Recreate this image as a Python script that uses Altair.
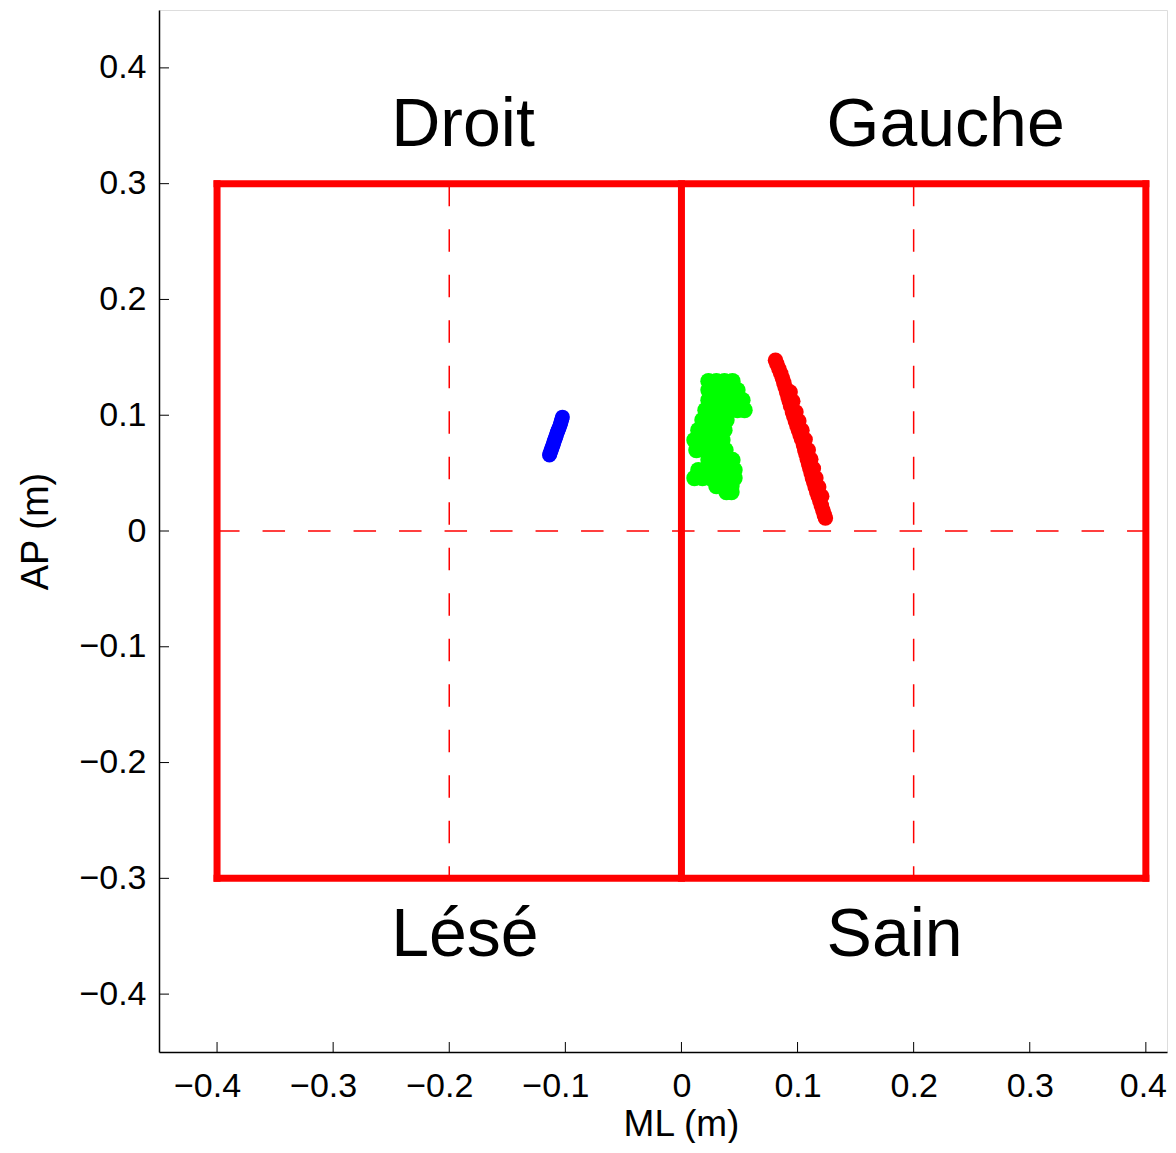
import altair as alt
import pandas as pd

# ---- data ----
tick_values = [-0.4, -0.3, -0.2, -0.1, 0.0, 0.1, 0.2, 0.3, 0.4]

# solid red frame (outer rectangle + middle divider)
solid_x1 = [-0.4, -0.4, 0.4, -0.4, 0.0]
solid_y1 = [-0.3, 0.3, 0.3, -0.3, -0.3]
solid_x2 = [-0.4, 0.4, 0.4, 0.4, 0.0]
solid_y2 = [0.3, 0.3, -0.3, -0.3, 0.3]

# dashed red guides
dash_x1 = [-0.2, 0.2, -0.4]
dash_y1 = [0.3, 0.3, 0.0]
dash_x2 = [-0.2, 0.2, 0.4]
dash_y2 = [-0.3, -0.3, 0.0]

# quadrant labels
label_text = ["Droit", "Gauche", "Lésé", "Sain"]
label_x = [-0.25, 0.125, -0.25, 0.125]
label_y = [0.35, 0.35, -0.35, -0.35]

# centre-of-pressure traces
blue_x = [-0.1025, -0.1030, -0.1035, -0.1040, -0.1045, -0.1052, -0.1058, -0.1064, -0.1070,
          -0.1076, -0.1082, -0.1088, -0.1095, -0.1100, -0.1105, -0.1112, -0.1118, -0.1123,
          -0.1128, -0.1133, -0.1137]
blue_y = [0.0984, 0.0967, 0.0950, 0.0932, 0.0915, 0.0897, 0.0880, 0.0865, 0.0850,
          0.0832, 0.0815, 0.0797, 0.0780, 0.0762, 0.0745, 0.0727, 0.0710, 0.0695,
          0.0680, 0.0668, 0.0656]

green_x = [0.0233, 0.0301, 0.0370, 0.0439,
           0.0233, 0.0301, 0.0370, 0.0439, 0.0482,
           0.0233, 0.0301, 0.0370, 0.0439, 0.0508, 0.0525,
           0.0207, 0.0276, 0.0345, 0.0413, 0.0482, 0.0543,
           0.0181, 0.0250, 0.0319, 0.0388,
           0.0146, 0.0215, 0.0284, 0.0353, 0.0370,
           0.0112, 0.0181, 0.0250, 0.0319, 0.0353,
           0.0129, 0.0198, 0.0267, 0.0336, 0.0379,
           0.0233, 0.0301, 0.0370, 0.0439,
           0.0146, 0.0215, 0.0284, 0.0353, 0.0422, 0.0457,
           0.0112, 0.0181, 0.0250, 0.0319, 0.0388, 0.0457,
           0.0301, 0.0370, 0.0431,
           0.0388, 0.0431]
green_y = [0.1294, 0.1294, 0.1294, 0.1294,
           0.1217, 0.1217, 0.1217, 0.1217, 0.1217,
           0.1130, 0.1130, 0.1130, 0.1130, 0.1130, 0.1130,
           0.1044, 0.1044, 0.1044, 0.1044, 0.1044, 0.1044,
           0.0958, 0.0958, 0.0958, 0.0958,
           0.0871, 0.0871, 0.0871, 0.0871, 0.0871,
           0.0785, 0.0785, 0.0785, 0.0785, 0.0785,
           0.0699, 0.0699, 0.0699, 0.0699, 0.0699,
           0.0613, 0.0613, 0.0613, 0.0613,
           0.0526, 0.0526, 0.0526, 0.0526, 0.0526, 0.0526,
           0.0457, 0.0457, 0.0457, 0.0457, 0.0457, 0.0457,
           0.0388, 0.0388, 0.0388,
           0.0336, 0.0336]

red_x = [0.0810, 0.0823, 0.0840, 0.0855, 0.0870, 0.0882, 0.0894, 0.0906, 0.0918, 0.0929,
         0.0940, 0.0956, 0.0968, 0.0981, 0.0995, 0.1008, 0.1022, 0.1035, 0.1051, 0.1062,
         0.1073, 0.1084, 0.1095, 0.1106, 0.1117, 0.1128, 0.1140, 0.1152, 0.1165, 0.1178,
         0.1192, 0.1205, 0.1218, 0.1230, 0.1240,
         0.0936, 0.0959, 0.0986, 0.1011, 0.1038, 0.1065, 0.1092, 0.1114, 0.1136, 0.1158,
         0.1182, 0.1208]
red_y = [0.1475, 0.1440, 0.1400, 0.1360, 0.1320, 0.1280, 0.1240, 0.1200, 0.1160, 0.1120,
         0.1080, 0.1027, 0.0990, 0.0950, 0.0910, 0.0870, 0.0830, 0.0790, 0.0742, 0.0700,
         0.0660, 0.0620, 0.0580, 0.0540, 0.0500, 0.0457, 0.0420, 0.0380, 0.0340, 0.0300,
         0.0260, 0.0220, 0.0180, 0.0140, 0.0112,
         0.1200, 0.1120, 0.1027, 0.0950, 0.0870, 0.0790, 0.0700, 0.0620, 0.0540, 0.0457,
         0.0380, 0.0300]

blue_color, green_color, red_color = "#0000ff", "#00ff00", "#ff0000"
blue_size, green_size, red_size = 220, 270, 240

# ---- tables ----
solid_df = pd.DataFrame({"x": solid_x1, "y": solid_y1, "x2": solid_x2, "y2": solid_y2})
dash_df = pd.DataFrame({"x": dash_x1, "y": dash_y1, "x2": dash_x2, "y2": dash_y2})
label_df = pd.DataFrame({"x": label_x, "y": label_y, "t": label_text})
blue_df = pd.DataFrame({"x": blue_x, "y": blue_y})
green_df = pd.DataFrame({"x": green_x, "y": green_y})
red_df = pd.DataFrame({"x": red_x, "y": red_y})
tick_df = pd.DataFrame({"v": tick_values})

W, H = 1008, 1042
FONT = "Liberation Sans"

xs = alt.Scale(domain=[-0.45, -0.45 + W / 1161.0], nice=False, zero=False)
ys = alt.Scale(domain=[-0.45, 0.45], nice=False, zero=False)

x_axis = alt.Axis(values=tick_values, format="~g", title="ML (m)", grid=False,
                  tickSize=0, labelFontSize=34, labelFont=FONT, labelColor="black",
                  labelPadding=17, domainColor="black", domainWidth=1.5,
                  labelOffset={"condition": [{"test": "datum.value < 0", "value": -10},
                                             {"test": "datum.value > 0.35", "value": -3}],
                               "value": 0},
                  titleFont=FONT, titleFontSize=37, titleFontWeight="normal",
                  titleColor="black", titleX=522, titleY=83, titleBaseline="alphabetic",
                  titleAlign="center", labelFlush=False, labelOverlap=False)
y_axis = alt.Axis(values=tick_values, format="~g", title="AP (m)", grid=False,
                  tickSize=0, labelFontSize=34, labelFont=FONT, labelColor="black",
                  labelPadding=13, domainColor="black", domainWidth=1.5,
                  titleFont=FONT, titleFontSize=38, titleFontWeight="normal",
                  titleColor="black", titleX=-112, titleY=H / 2, titleBaseline="alphabetic",
                  titleAlign="center", titleAngle=270, labelFlush=False, labelOverlap=False)

X = lambda f="x": alt.X(f + ":Q", scale=xs, axis=x_axis)
Y = lambda f="y": alt.Y(f + ":Q", scale=ys, axis=y_axis)

solid = alt.Chart(solid_df).mark_rule(color=red_color, strokeWidth=7, strokeCap="square").encode(
    x=X(), y=Y(), x2="x2:Q", y2="y2:Q")

dashed = alt.Chart(dash_df).mark_rule(color=red_color, strokeWidth=1.5, strokeDash=[22.5, 23]).encode(
    x=X(), y=Y(), x2="x2:Q", y2="y2:Q")

blue_pts = alt.Chart(blue_df).mark_circle(opacity=1, color=blue_color, size=blue_size).encode(x=X(), y=Y())
green_pts = alt.Chart(green_df).mark_circle(opacity=1, color=green_color, size=green_size).encode(x=X(), y=Y())
red_pts = alt.Chart(red_df).mark_circle(opacity=1, color=red_color, size=red_size).encode(x=X(), y=Y())

labels = alt.Chart(label_df).mark_text(font=FONT, fontSize=68, align="left", baseline="middle",
                                       color="black").encode(x=X(), y=Y(), text="t:N")

xticks = alt.Chart(tick_df).mark_rule(color="black", strokeWidth=1).encode(
    x=alt.X("v:Q", scale=xs, axis=x_axis), y=alt.value(H), y2=alt.value(H - 10))
yticks = alt.Chart(tick_df).mark_rule(color="black", strokeWidth=1).encode(
    y=alt.Y("v:Q", scale=ys, axis=y_axis), x=alt.value(0), x2=alt.value(10))

chart = alt.layer(solid, dashed, labels, blue_pts, green_pts, red_pts, xticks, yticks).properties(
    width=W, height=H,
    autosize=alt.AutoSizeParams(type="none"),
    padding={"left": 151, "top": 2, "right": 1, "bottom": 91},
).configure_view(stroke=None).configure(background="white")

chart.save("out.html", embed_options={"renderer": "svg", "actions": False})
